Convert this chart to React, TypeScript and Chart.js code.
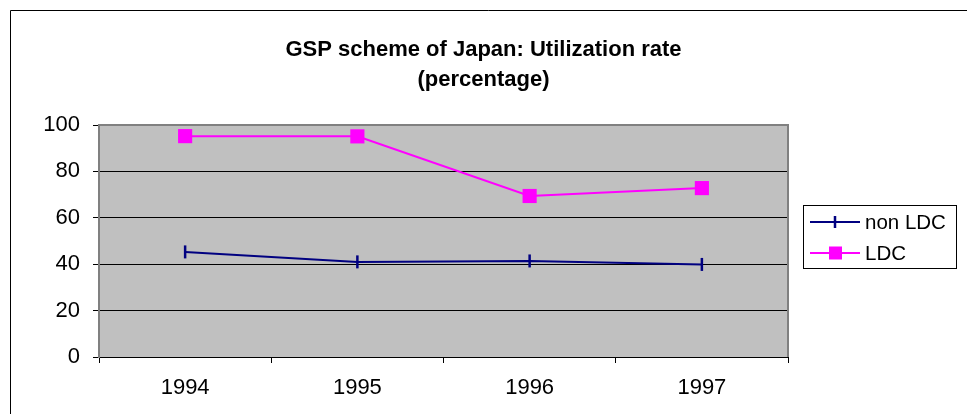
import React, { useEffect, useRef } from "react";
import { Chart, registerables } from "chart.js";

Chart.register(...registerables);

const categories = ["1994", "1995", "1996", "1997"];
const nonLdc = [45.3, 41.0, 41.4, 39.9];
const ldc = [95.2, 95.1, 69.4, 72.8];
const titleLines = ["GSP scheme of Japan: Utilization rate", "(percentage)"];
const seriesNames = ["non LDC", "LDC"];

const FONT = "Arial, 'Liberation Sans', Helvetica, sans-serif";
const NAVY = "#000080";
const MAGENTA = "#FF00FF";

const framePlugin = {
  id: "frame",
  beforeDraw(chart: any) {
    const { ctx, chartArea: a } = chart;
    ctx.save();
    ctx.fillStyle = "#FFFFFF";
    ctx.fillRect(0, 0, chart.width, chart.height);
    ctx.fillStyle = "#C0C0C0";
    ctx.fillRect(a.left, a.top, a.right - a.left, a.bottom - a.top);
    ctx.strokeStyle = "#000000";
    ctx.lineWidth = 1;
    ctx.beginPath();
    ctx.moveTo(10.5, chart.height);
    ctx.lineTo(10.5, 10.5);
    ctx.lineTo(chart.width, 10.5);
    ctx.stroke();
    ctx.restore();
  },
  beforeDatasetsDraw(chart: any) {
    const { ctx, chartArea: a } = chart;
    ctx.save();
    ctx.strokeStyle = "#808080";
    ctx.lineWidth = 2;
    ctx.beginPath();
    ctx.moveTo(a.left, a.top);
    ctx.lineTo(a.right, a.top);
    ctx.lineTo(a.right, a.bottom);
    ctx.stroke();
    ctx.restore();
  },
  afterDraw(chart: any) {
    const { ctx } = chart;
    ctx.save();
    const bx = 803.5, by = 205.5, bw = 153, bh = 63;
    ctx.strokeStyle = "#000000";
    ctx.lineWidth = 1;
    ctx.strokeRect(bx, by, bw, bh);
    const rows = [222, 253];
    ctx.strokeStyle = NAVY;
    ctx.lineWidth = 2;
    ctx.beginPath();
    ctx.moveTo(810, rows[0]);
    ctx.lineTo(860, rows[0]);
    ctx.stroke();
    ctx.lineWidth = 2.5;
    ctx.beginPath();
    ctx.moveTo(835, rows[0] - 6);
    ctx.lineTo(835, rows[0] + 6);
    ctx.stroke();
    ctx.strokeStyle = MAGENTA;
    ctx.lineWidth = 2;
    ctx.beginPath();
    ctx.moveTo(810, rows[1]);
    ctx.lineTo(860, rows[1]);
    ctx.stroke();
    ctx.fillStyle = MAGENTA;
    ctx.fillRect(829, rows[1] - 6.5, 13, 13);
    ctx.fillStyle = "#000000";
    ctx.font = `20.5px ${FONT}`;
    ctx.textBaseline = "middle";
    ctx.textAlign = "left";
    ctx.fillText(seriesNames[0], 865, rows[0] + 1);
    ctx.fillText(seriesNames[1], 865, rows[1] + 1);
    ctx.restore();
  },
};

export default function App() {
  const ref = useRef<HTMLCanvasElement>(null);
  useEffect(() => {
    document.body.style.margin = "0";
    const chart = new Chart(ref.current!, {
      type: "line",
      data: {
        labels: categories,
        datasets: [
          {
            label: seriesNames[0],
            data: nonLdc,
            borderColor: NAVY,
            backgroundColor: NAVY,
            borderWidth: 2,
            pointStyle: "line",
            rotation: 90,
            pointRadius: 6.5,
            pointBorderWidth: 2.5,
            pointBorderColor: NAVY,
            tension: 0,
            yAxisID: "y",
          },
          {
            label: seriesNames[1],
            data: ldc,
            borderColor: MAGENTA,
            backgroundColor: MAGENTA,
            borderWidth: 2,
            pointStyle: "rect",
            pointRadius: 10,
            pointBorderWidth: 0,
            pointBackgroundColor: MAGENTA,
            tension: 0,
            yAxisID: "y",
          },
        ],
      },
      options: {
        animation: false,
        responsive: false,
        layout: { padding: { left: 0, right: 0, top: 0, bottom: 0 } },
        plugins: {
          legend: { display: false },
          tooltip: { enabled: false },
          title: {
            display: true,
            text: titleLines,
            color: "#000000",
            font: { family: FONT, size: 22, weight: "bold", lineHeight: 30 / 22 },
            padding: { top: 35, bottom: 30 },
          },
        },
        scales: {
          x: {
            offset: true,
            grid: {
              offset: true,
              drawOnChartArea: false,
              drawTicks: true,
              tickLength: 6,
              color: "#000000",
            },
            border: { color: "#000000", width: 1 },
            ticks: {
              color: "#000000",
              font: { family: FONT, size: 22 },
              padding: 12,
              maxRotation: 0,
            },
            afterFit(scale: any) {
              scale.height = 57;
            },
          },
          y: {
            min: 0,
            max: 100,
            ticks: {
              stepSize: 20,
              color: "#000000",
              font: { family: FONT, size: 22 },
              padding: 13,
            },
            grid: {
              color: (c: any) => (c.tick && c.tick.value === 100 ? "#808080" : "#000000"),
              lineWidth: 1,
              tickLength: 6,
              tickColor: "#000000",
            },
            border: { color: "#808080", width: 2 },
            afterFit(scale: any) {
              scale.width = 99;
            },
          },
          yRight: {
            position: "right",
            display: true,
            min: 0,
            max: 100,
            ticks: { display: false },
            grid: { display: false, drawOnChartArea: false },
            border: { display: false },
            afterFit(scale: any) {
              scale.width = 179;
            },
          },
        },
      },
      plugins: [framePlugin],
    });
    return () => chart.destroy();
  }, []);
  return (
    <div style={{ width: 967, height: 414 }}>
      <canvas ref={ref} width={967} height={414} style={{ display: "block" }} />
    </div>
  );
}
